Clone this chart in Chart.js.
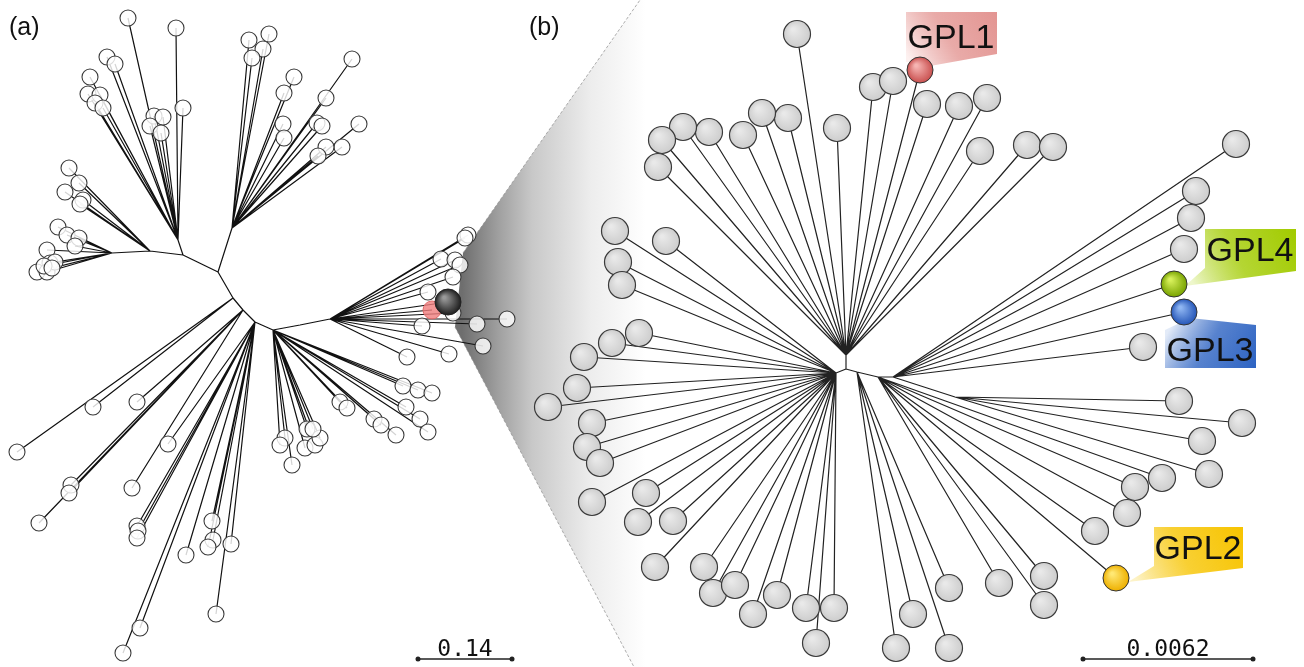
<!DOCTYPE html>
<html>
<head>
<meta charset="utf-8">
<script src="https://cdn.jsdelivr.net/npm/chart.js@4.4.1/dist/chart.umd.min.js"></script>
<style>
  html, body { margin: 0; padding: 0; background: #fff; }
  #wrap { width: 1304px; height: 667px; position: relative; }
</style>
</head>
<body>
<div id="wrap"><canvas id="tree"></canvas></div>
<script>
// ── Panel (a): internal nodes [x, y, parent] and leaves [x, y, node] ──
const aNodes = [
    [218, 272, -1],   // 0 centre
    [183, 255, 0],    // 1
    [150, 251, 1],    // 2
    [112, 253, 2],    // 3 left cluster
    [178, 240, 1],    // 4 top-left fan
    [232, 228, 0],    // 5 top-right fan
    [233, 298, 0],    // 6
    [243, 310, 6],    // 7
    [255, 322, 7],    // 8
    [273, 330, 8],    // 9
    [300, 325, 9],    // 10
    [330, 319, 10]    // 11 right fan
];
const aLeaves = [
    [128,18,4],[176,28,4],[107,57,4],[115,64,4],[90,77,4],[88,94,4],[100,95,4],[95,103,4],[103,108,4],
    [154,116,4],[163,117,4],[150,126,4],[161,133,4],[183,108,4],
    [69,168,2],[79,183,2],[65,192,2],[83,200,2],[80,204,2],
    [58,227,3],[67,235,3],[79,238,3],[75,246,3],[47,250,3],[50,263,3],[37,272,3],[47,272,3],[55,262,3],[44,266,3],[52,268,3],
    [249,40,5],[269,34,5],[263,49,5],[252,58,5],[294,77,5],[284,93,5],[352,59,5],[326,98,5],[283,124,5],[284,138,5],
    [317,123,5],[322,126,5],[359,124,5],[342,147,5],[326,147,5],[318,156,5],
    [17,452,6],[93,407,6],
    [137,402,7],[71,485,7],[69,493,7],[39,523,7],[132,488,7],
    [168,444,8],[137,526,8],[138,531,8],[137,538,8],[186,555,8],[212,521,8],[213,540,8],[208,547,8],[231,544,8],
    [216,614,8],[140,628,8],[123,653,8],
    [285,438,9],[280,445,9],[292,465,9],[305,448,9],[315,445,9],[320,438,9],[307,429,9],[313,429,9],[340,402,9],
    [347,408,9],[374,419,9],[381,425,9],[396,435,9],[403,386,9],[418,390,9],[432,393,9],[406,407,9],[420,419,9],[428,432,9],
    [468,235,11],[465,238,11],[441,259,11],[455,260,11],[460,265,11],[453,277,11],[428,292,11],[453,313,11],
    [422,326,11],[477,324,11],[507,319,11],[483,346,11],[449,354,11],[407,357,11]
];
const aHighlightRed  = [[432, 310, 11]];
const aHighlightDark = [[448, 302, 11]];

// ── Panel (b) ──
const bNodes = [
    [846, 369, -1],   // 0 centre
    [846, 355, 0],    // 1 top fan
    [836, 373, 0],    // 2 left fan
    [857, 372, 0],    // 3 bottom
    [878, 377, 3],    // 4 lower right
    [893, 377, 4],    // 5 right fan
    [955, 397, 5]     // 6 right sub fan
];
const bLeaves = [
    [797,34,1],[873,87,1],[893,81,1],[927,104,1],[959,106,1],[987,98,1],[980,151,1],[1027,145,1],[1053,147,1],
    [837,128,1],[788,118,1],[762,113,1],[743,135,1],[709,132,1],[683,127,1],[662,140,1],[658,167,1],
    [615,231,2],[666,241,2],[618,262,2],[622,285,2],[639,333,2],[612,343,2],[584,357,2],[577,388,2],[548,407,2],
    [592,423,2],[587,447,2],[600,463,2],[592,502,2],[646,493,2],[638,522,2],[673,521,2],[655,567,2],[704,567,2],
    [713,593,2],[735,585,2],[753,614,2],[777,595,2],[806,608,2],[834,608,2],[816,643,2],
    [896,648,3],[913,614,3],[949,648,3],[949,588,3],
    [999,583,4],[1044,576,4],[1044,605,4],[1095,531,4],[1127,513,4],[1135,487,4],[1162,478,4],
    [1179,401,6],[1242,423,6],[1202,441,6],[1209,474,6],
    [1143,347,5],[1196,191,5],[1191,218,5],[1184,249,5],[1236,144,5]
];
const gplNames  = ['GPL1', 'GPL2', 'GPL3', 'GPL4'];
const gplLeaves = [[920,70,1],[1116,578,4],[1184,312,5],[1174,284,5]];

// ── Scale bars ──
const scaleLabels = ['0.14', '0.0062'];
const scaleBars   = [[418, 512], [1083, 1253]];
const scaleBarY   = 659;

// ── Styles ──
const GPL_STYLE = {
    GPL1: { light: '#f6b4b2', dark: '#c9504f', strong: '#e39592', pale: '#fdf1f0',
            shape: [[906,12],[997,12],[997,54],[930,66],[906,62]], grad: [[997,14],[912,64]], text: [951,36] },
    GPL2: { light: '#ffe873', dark: '#eeb000', strong: '#f7c400', pale: '#fdf3c8',
            shape: [[1154,527],[1243,527],[1243,568],[1128,582],[1154,566]], grad: [[1243,530],[1135,578]], text: [1198,547] },
    GPL3: { light: '#8fb6f2', dark: '#2556b8', strong: '#2d63c2', pale: '#e3ebf8',
            shape: [[1165,330],[1190,318],[1256,325],[1256,368],[1165,368]], grad: [[1256,368],[1175,320]], text: [1210,349] },
    GPL4: { light: '#d7f05a', dark: '#78a300', strong: '#a2cb00', pale: '#eef7cc',
            shape: [[1205,229],[1296,229],[1296,271],[1185,286],[1205,268]], grad: [[1296,232],[1192,282]], text: [1250,249] }
};

function edgeData(nodes, leaves) {
    const pts = [];
    const add = (x, y, p) => {
        pts.push({ x, y }, { x: nodes[p][0], y: nodes[p][1] }, { x: null, y: null });
    };
    nodes.forEach(([x, y, p]) => { if (p >= 0) add(x, y, p); });
    leaves.forEach(([x, y, n]) => add(x, y, n));
    return pts;
}
const toPoints = arr => arr.map(([x, y]) => ({ x, y }));

// sphere-like radial fill for a point
function sphere(light, dark, r) {
    return ctx => {
        if (ctx.type !== 'data' || !ctx.parsed) return dark;
        const ch = ctx.chart;
        const px = ch.scales.x.getPixelForValue(ctx.parsed.x);
        const py = ch.scales.y.getPixelForValue(ctx.parsed.y);
        if (!isFinite(px) || !isFinite(py)) return dark;
        const g = ch.ctx.createRadialGradient(px - r * 0.3, py - r * 0.35, r * 0.1, px, py, r);
        g.addColorStop(0, light);
        g.addColorStop(1, dark);
        return g;
    };
}

// ── Wedge, tags and texts ──
const decor = {
    id: 'decor',
    beforeDatasetsDraw(chart) {
        const { ctx, scales: { x, y } } = chart;
        const P = ([a, b]) => [x.getPixelForValue(a), y.getPixelForValue(b)];
        const poly = pts => {
            ctx.beginPath();
            pts.forEach((p, i) => { const [px, py] = P(p); i ? ctx.lineTo(px, py) : ctx.moveTo(px, py); });
            ctx.closePath();
        };
        ctx.save();
        // zoom wedge
        const [gx0] = P([462, 0]), [gx1] = P([646, 0]);
        const g = ctx.createLinearGradient(gx0, 0, gx1, 0);
        g.addColorStop(0, '#6e6e6e');
        g.addColorStop(0.2, '#a0a0a0');
        g.addColorStop(0.38, '#c8c8c8');
        g.addColorStop(0.7, '#ededed');
        g.addColorStop(1, '#ffffff');
        poly([[463,253],[640,0],[660,0],[660,667],[634,667],[455,327]]);
        ctx.fillStyle = g;
        ctx.fill();
        ctx.strokeStyle = 'rgba(140,140,140,0.7)';
        ctx.lineWidth = 1;
        ctx.setLineDash([3, 2]);
        [[[463,253],[640,0]], [[455,327],[634,667]]].forEach(([s, e]) => {
            ctx.beginPath();
            ctx.moveTo(...P(s));
            ctx.lineTo(...P(e));
            ctx.stroke();
        });
        ctx.setLineDash([]);
        // label tags
        gplNames.forEach(name => {
            const st = GPL_STYLE[name];
            const [a, b] = st.grad.map(P);
            const tg = ctx.createLinearGradient(a[0], a[1], b[0], b[1]);
            tg.addColorStop(0, st.strong);
            tg.addColorStop(0.55, st.strong + 'cc');
            tg.addColorStop(1, st.pale);
            poly(st.shape);
            ctx.fillStyle = tg;
            ctx.fill();
        });
        ctx.restore();
    },
    afterDatasetsDraw(chart) {
        const { ctx, scales: { x, y } } = chart;
        const P = (a, b) => [x.getPixelForValue(a), y.getPixelForValue(b)];
        ctx.save();
        ctx.fillStyle = '#111';
        ctx.textAlign = 'left';
        ctx.textBaseline = 'middle';
        ctx.font = '25px "Liberation Sans", Arial, sans-serif';
        ctx.fillText('(a)', ...P(9, 28));
        ctx.fillText('(b)', ...P(529, 28));
        ctx.textAlign = 'center';
        ctx.textBaseline = 'alphabetic';
        ctx.font = '34px "Liberation Sans", Arial, sans-serif';
        gplNames.forEach(name => {
            const [tx, ty] = GPL_STYLE[name].text;
            ctx.fillText(name, ...P(tx, ty + 12));
        });
        ctx.font = '23px "DejaVu Sans Mono", monospace';
        scaleLabels.forEach((txt, i) => {
            ctx.fillText(txt, ...P((scaleBars[i][0] + scaleBars[i][1]) / 2, 656));
        });
        ctx.restore();
    }
};

const gplPoints = toPoints(gplLeaves);

new Chart(document.getElementById('tree'), {
    type: 'scatter',
    data: {
        datasets: [
            {
                type: 'line', label: 'edges a', data: edgeData(aNodes, aLeaves.concat(aHighlightRed, aHighlightDark)),
                borderColor: '#111', borderWidth: 1.2, pointRadius: 0, spanGaps: false, fill: false, order: 10
            },
            {
                type: 'line', label: 'edges b', data: edgeData(bNodes, bLeaves.concat(gplLeaves)),
                borderColor: '#222', borderWidth: 1.2, pointRadius: 0, spanGaps: false, fill: false, order: 10
            },
            {
                label: 'leaves a', data: toPoints(aLeaves),
                pointRadius: 8, pointBackgroundColor: 'rgba(255,255,255,0.82)',
                pointBorderColor: '#3a3a3a', pointBorderWidth: 1.1, order: 5
            },
            {
                label: 'highlight red', data: toPoints(aHighlightRed),
                pointRadius: 9, pointBackgroundColor: 'rgba(240,125,125,0.8)',
                pointBorderColor: '#e06a6a', pointBorderWidth: 1, order: 3
            },
            {
                label: 'highlight dark', data: toPoints(aHighlightDark),
                pointRadius: 13, pointBackgroundColor: sphere('#9a9a9a', '#1e1e1e', 13),
                pointBorderColor: '#222', pointBorderWidth: 1, order: 2
            },
            {
                label: 'leaves b', data: toPoints(bLeaves),
                pointRadius: 13.5, pointBackgroundColor: sphere('#e9e9e9', '#cdcdcd', 13.5),
                pointBorderColor: '#3a3a3a', pointBorderWidth: 1.2, order: 5
            },
            {
                label: 'GPL', data: gplPoints,
                pointRadius: 13, pointBorderColor: '#333', pointBorderWidth: 1,
                pointBackgroundColor: ctx => {
                    const st = GPL_STYLE[gplNames[ctx.dataIndex]] || GPL_STYLE.GPL1;
                    return sphere(st.light, st.dark, 13)(ctx);
                },
                order: 2
            },
            {
                type: 'line', label: 'scale a',
                data: scaleBars[0].map(x => ({ x, y: scaleBarY })),
                borderColor: '#222', borderWidth: 1.5, pointRadius: 2.5,
                pointBackgroundColor: '#222', pointBorderWidth: 0, order: 1
            },
            {
                type: 'line', label: 'scale b',
                data: scaleBars[1].map(x => ({ x, y: scaleBarY })),
                borderColor: '#222', borderWidth: 1.5, pointRadius: 2.5,
                pointBackgroundColor: '#222', pointBorderWidth: 0, order: 1
            }
        ]
    },
    options: {
        responsive: true,
        maintainAspectRatio: false,
        animation: false,
        events: [],
        layout: { padding: 0, autoPadding: false },
        scales: {
            x: { type: 'linear', min: 0, max: 1304, display: false },
            y: { type: 'linear', min: 0, max: 667, reverse: true, display: false }
        },
        plugins: {
            legend: { display: false },
            tooltip: { enabled: false }
        }
    },
    plugins: [decor]
});
</script>
</body>
</html>
